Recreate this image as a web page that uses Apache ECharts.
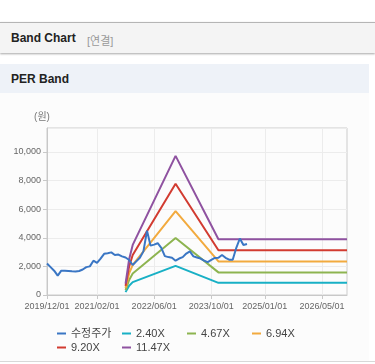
<!DOCTYPE html>
<html>
<head>
<meta charset="utf-8">
<script src="https://cdn.jsdelivr.net/npm/echarts@6/dist/echarts.min.js"></script>
<style>
  html, body { margin: 0; padding: 0; background: #ffffff; width: 375px; height: 364px; overflow: hidden;
    font-family: "Liberation Sans", Arial, "Noto Sans CJK KR", sans-serif; }
  #hdr { position: absolute; left: 0; top: 22px; width: 375px; height: 30px; background: #f4f4f4;
    border-top: 1px solid #b5b5b5; box-shadow: 0 1px 2px rgba(0,0,0,0.35); }
  #hdr .t { position: absolute; left: 11px; top: 8px; font-size: 12px; font-weight: bold; color: #222; }
  #hdr .s { position: absolute; left: 87px; top: 9px; font-size: 11px; color: #999; }
  #sub { position: absolute; left: 0; top: 64px; width: 369px; height: 29px; background: #eef2f8; }
  #sub .t { position: absolute; left: 11px; top: 8px; font-size: 12px; font-weight: bold; color: #222; }
  #area { position: absolute; left: 0; top: 93px; width: 369px; height: 268px; background: #fcfcfc; }
  #bl { position: absolute; left: 0; top: 361px; width: 375px; height: 1px; background: #d8d8d8; }
  #chart { position: absolute; left: 0; top: 95px; width: 369px; height: 263px; }
</style>
</head>
<body>
<div id="hdr"><span class="t">Band Chart</span><span class="s">[연결]</span></div>
<div id="sub"><span class="t">PER Band</span></div>
<div id="area"></div>
<div id="bl"></div>
<div id="chart"></div>
<script>
// Monthly categories 2019/12/01 .. 2026/12/01
var categories = [];
(function () {
  var y = 2019, m = 12;
  for (var i = 0; i <= 84; i++) {
    categories.push(y + '/' + (m < 10 ? '0' + m : m) + '/01');
    m++; if (m > 12) { m = 1; y++; }
  }
})();
var xTickLabels = ['2019/12/01', '2021/02/01', '2022/06/01', '2023/10/01', '2025/01/01', '2026/05/01'];

// Adjusted share price (monthly, from 2019/12)
var priceValues = [2200, 1950, 1700, 1350, 1700, 1700, 1680, 1660, 1650, 1680,
  1780, 1950, 2000, 2400, 2250, 2550, 2880, 2920, 2980, 2800,
  2830, 2700, 2620, 2450, 2100, 2350, 2600, 3050, 4500, 3450,
  3520, 3620, 3300, 2720, 2650, 2600, 2400, 2550, 2650, 2900,
  3050, 2700, 2620, 2550, 2400, 2300, 2450, 2590, 2600, 2800,
  2600, 2470, 2470, 3300, 3950, 3500, 3570];

// PER band vertices
var bandDates = ['2021/10/01', '2021/11/01', '2021/12/01', '2022/12/01', '2023/12/01', '2026/12/01'];
var band240 = [200, 650, 900, 2040, 850, 850];
var band467 = [340, 1050, 1500, 3980, 1580, 1580];
var band694 = [490, 1510, 2110, 5860, 2350, 2350];
var band920 = [640, 2000, 2800, 7780, 3130, 3130];
var band1147 = [800, 2500, 3500, 9730, 3900, 3900];

var seriesNames = ['수정주가', '2.40X', '4.67X', '6.94X', '9.20X', '11.47X'];
var colors = ['#3a76c4', '#18b0c5', '#8db450', '#f2aa3e', '#d23b30', '#8f52a0'];

function pairs(vals) {
  return bandDates.map(function (d, i) { return [d, vals[i]]; });
}
function showTick(idx, val) { return xTickLabels.indexOf(val) >= 0; }

var chart = echarts.init(document.getElementById('chart'), null, { renderer: 'canvas' });
var bands = [band240, band467, band694, band920, band1147];
var series = [];
bands.forEach(function (b, i) {
  series.push({
    name: seriesNames[i + 1], type: 'line', data: pairs(b), symbol: 'none',
    lineStyle: { width: 2, color: colors[i + 1] }, itemStyle: { color: colors[i + 1] }, z: 2
  });
});
series.push({
  name: seriesNames[0], type: 'line', data: priceValues, symbol: 'none',
  lineStyle: { width: 2, color: colors[0] }, itemStyle: { color: colors[0] }, z: 5
});

var FF = '"Liberation Sans", Arial, "Noto Sans CJK KR", sans-serif';
// legend laid out in a 4-column grid, one legend component per item
var legends = seriesNames.map(function (n, i) {
  return {
    data: [n], left: 52 + (i % 4) * 65, top: 228 + Math.floor(i / 4) * 14,
    icon: 'rect', itemWidth: 9, itemHeight: 2, itemGap: 0,
    textStyle: { fontSize: 11, color: '#444', fontFamily: FF }
  };
});

chart.setOption({
  animation: false,
  grid: { left: 47, right: 22, top: 33, bottom: 63, containLabel: false, outerBoundsMode: 'none',
    show: true, borderColor: '#cccccc', borderWidth: 1, backgroundColor: 'transparent' },
  legend: legends,
  xAxis: {
    type: 'category', data: categories, boundaryGap: false,
    axisLine: { lineStyle: { color: '#c8c8c8', width: 1 } },
    axisTick: { show: true, interval: showTick, length: 4, lineStyle: { color: '#c8c8c8' } },
    axisLabel: { interval: showTick, fontSize: 9, color: '#666', margin: 7, fontFamily: FF },
    splitLine: { show: true, interval: showTick, lineStyle: { color: '#ececec' } }
  },
  yAxis: {
    type: 'value', min: 0, max: function (v) { return v.max * 1.2; }, interval: 2000,
    name: '(원)', nameLocation: 'end', nameGap: 6,
    nameTextStyle: { fontSize: 10, color: '#777', align: 'center', padding: [0, 10, 0, 0], fontFamily: FF },
    axisLine: { show: true, lineStyle: { color: '#c8c8c8', width: 1 } },
    axisTick: { show: true, length: 4, lineStyle: { color: '#c8c8c8' } },
    axisLabel: { fontSize: 9, color: '#666', margin: 6, showMaxLabel: false,
      formatter: function (v) { return v.toLocaleString('en-US'); }, fontFamily: FF },
    splitLine: { show: true, lineStyle: { color: '#ececec' } }
  },
  series: series
});
</script>
</body>
</html>
